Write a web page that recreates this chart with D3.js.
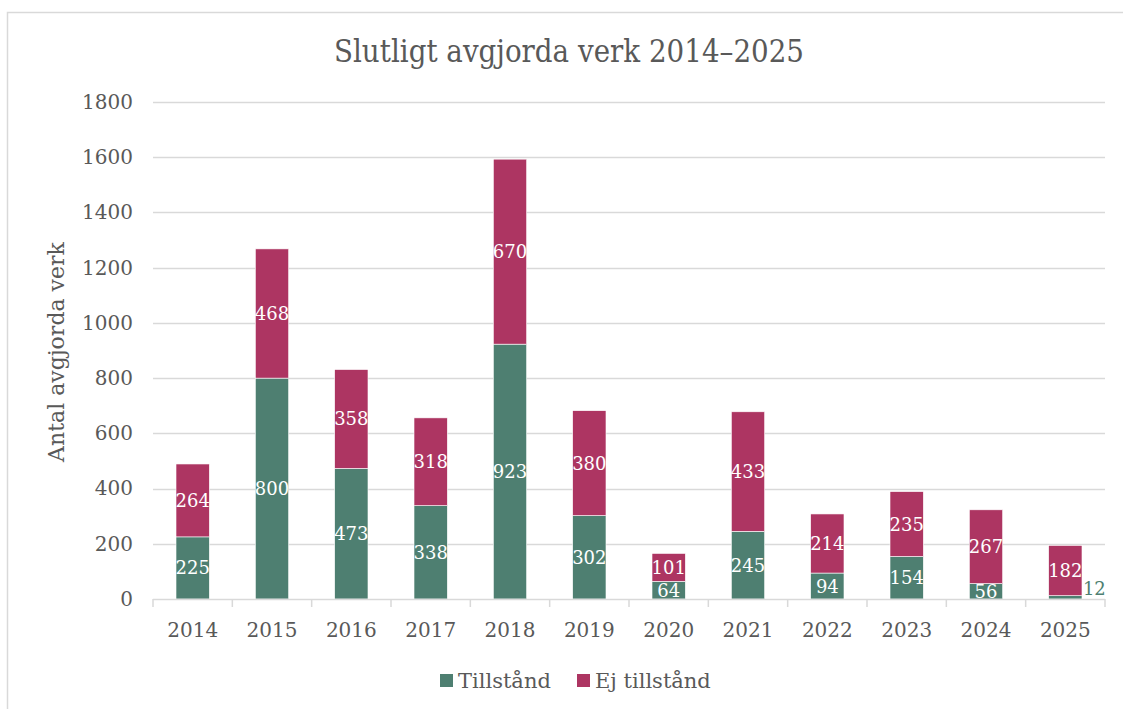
<!DOCTYPE html>
<html>
<head>
<meta charset="utf-8">
<script src="https://cdn.jsdelivr.net/npm/d3@7"></script>
<style>
  body { margin: 0; background: #fff; }
  svg { font-family: Georgia, 'DejaVu Serif', serif; }
</style>
</head>
<body>
<script>
(function () {

    'use strict'

    const years = ['2014', '2015', '2016', '2017', '2018', '2019', '2020', '2021', '2022', '2023', '2024', '2025']
    const tillstand = [225, 800, 473, 338, 923, 302, 64, 245, 94, 154, 56, 12]
    const ejTillstand = [264, 468, 358, 318, 670, 380, 101, 433, 214, 235, 267, 182]
    const yTicks = [0, 200, 400, 600, 800, 1000, 1200, 1400, 1600, 1800]
    const seriesNames = ['Tillstånd', 'Ej tillstånd']
    const colors = ['#4e7f71', '#ad3562']

    const W = 1123, H = 709
    const margin = { top: 102, right: 18, bottom: 110, left: 153 }

    const svg = d3.select('body').append('svg')
        .attr('width', W)
        .attr('height', H)

    // chart frame
    svg.append('rect')
        .attr('x', 7.5).attr('y', 12.5)
        .attr('width', W + 10).attr('height', H + 10)
        .attr('fill', 'none')
        .attr('stroke', '#d9d9d9')
        .attr('stroke-width', 1.5)

    const xScale = d3.scaleBand()
        .domain(years)
        .range([margin.left, W - margin.right])
        .paddingInner(0.58)
        .paddingOuter(0.29)

    const yScale = d3.scaleLinear()
        .domain([0, 1800])
        .range([H - margin.bottom, margin.top])

    // gridlines
    svg.append('g')
        .selectAll('line')
        .data(yTicks.filter(d => d > 0))
        .enter()
        .append('line')
        .attr('x1', margin.left)
        .attr('x2', W - margin.right)
        .attr('y1', d => Math.round(yScale(d)) + 0.5)
        .attr('y2', d => Math.round(yScale(d)) + 0.5)
        .attr('stroke', '#d9d9d9')
        .attr('stroke-width', 1.5)

    // y axis labels
    const yAxis = svg.append('g')
        .attr('transform', 'translate(' + (margin.left - 20) + ',0)')
        .call(d3.axisLeft(yScale).tickValues(yTicks).tickFormat(d3.format('d')).tickSize(0).tickPadding(0))
    yAxis.select('.domain').remove()
    yAxis.selectAll('text')
        .attr('fill', '#595959')
        .style('font-size', '20px')
        .style('font-family', "Georgia, 'DejaVu Serif', serif")

    // stacked data
    const data = years.map((y, i) => ({ year: y, a: tillstand[i], b: ejTillstand[i] }))
    const stack = d3.stack().keys(['a', 'b'])(data)

    const bars = svg.append('g')
    stack.forEach((layer, li) => {
        bars.selectAll('.bar' + li)
            .data(layer)
            .enter()
            .append('rect')
            .attr('x', d => xScale(d.data.year))
            .attr('width', xScale.bandwidth())
            .attr('y', d => yScale(d[1]))
            .attr('height', d => yScale(d[0]) - yScale(d[1]))
            .attr('fill', colors[li])
            .attr('stroke', '#fff')
            .attr('stroke-width', 0.6)
    })

    // x axis
    const xAxisY = yScale(0)
    svg.append('line')
        .attr('x1', margin.left).attr('x2', W - margin.right)
        .attr('y1', xAxisY + 0.5).attr('y2', xAxisY + 0.5)
        .attr('stroke', '#d9d9d9').attr('stroke-width', 1.5)

    const bounds = years.map(y => xScale(y) - xScale.step() * xScale.paddingInner() / 2)
    bounds.push(W - margin.right)
    svg.append('g')
        .selectAll('line')
        .data(bounds)
        .enter()
        .append('line')
        .attr('x1', d => d).attr('x2', d => d)
        .attr('y1', xAxisY).attr('y2', xAxisY + 8)
        .attr('stroke', '#d9d9d9').attr('stroke-width', 1.5)

    svg.append('g')
        .selectAll('text')
        .data(years)
        .enter()
        .append('text')
        .attr('x', d => xScale(d) + xScale.bandwidth() / 2)
        .attr('y', xAxisY + 38)
        .attr('text-anchor', 'middle')
        .attr('fill', '#595959')
        .style('font-size', '20px')
        .text(d => d)

    // data labels
    const labels = svg.append('g')
    stack.forEach((layer, li) => {
        labels.selectAll('.lab' + li)
            .data(layer)
            .enter()
            .append('text')
            .attr('x', d => {
                const small = li === 0 && d.data.a < 30
                return xScale(d.data.year) + xScale.bandwidth() / 2 + (small ? 29 : 0)
            })
            .attr('y', d => {
                const small = li === 0 && d.data.a < 30
                return small ? xAxisY - 4 : (yScale(d[0]) + yScale(d[1])) / 2 + 6.5
            })
            .attr('text-anchor', 'middle')
            .attr('fill', d => (li === 0 && d.data.a < 30) ? colors[0] : '#fff')
            .style('font-size', '18px')
            .text(d => d[1] - d[0])
    })

    // title
    svg.append('text')
        .attr('x', 569)
        .attr('y', 62)
        .attr('text-anchor', 'middle')
        .attr('fill', '#595959')
        .attr('textLength', 470)
        .attr('lengthAdjust', 'spacingAndGlyphs')
        .style('font-size', '31px')
        .text('Slutligt avgjorda verk 2014–2025')

    // y title
    svg.append('text')
        .attr('transform', 'translate(64,' + 352 + ') rotate(-90)')
        .attr('text-anchor', 'middle')
        .attr('fill', '#595959')
        .style('font-size', '22px')
        .text('Antal avgjorda verk')

    // legend
    const legend = svg.append('g')
    const legendX = [440, 577]
    seriesNames.forEach((name, i) => {
        legend.append('rect')
            .attr('x', legendX[i]).attr('y', 674)
            .attr('width', 13).attr('height', 13)
            .attr('fill', colors[i])
        legend.append('text')
            .attr('x', legendX[i] + 18).attr('y', 688)
            .attr('fill', '#595959')
            .style('font-size', '21px')
            .text(name)
    })
})()
</script>
</body>
</html>
